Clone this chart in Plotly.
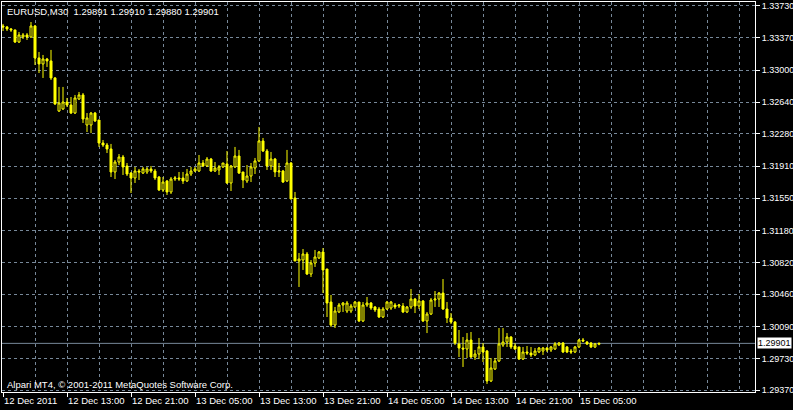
import plotly.graph_objects as go
import pandas as pd

# ---- data (EURUSD M30, 150 bars starting 12 Dec 2011 05:00) ----
bar_times = pd.date_range("2011-12-12 05:00", periods=150, freq="30min")

opens = [
    1.33503, 1.33492, 1.33469, 1.33458, 1.33321, 1.33378, 1.33401, 1.33378, 1.33503, 1.33140,
    1.33072, 1.33128, 1.33106, 1.32913, 1.32538, 1.32561, 1.32640, 1.32606, 1.32515, 1.32674,
    1.32720, 1.32379, 1.32379, 1.32515, 1.32436, 1.32175, 1.32152, 1.32107, 1.31846, 1.31959,
    1.32016, 1.31914, 1.31834, 1.31778, 1.31857, 1.31834, 1.31846, 1.31880, 1.31857, 1.31789,
    1.31642, 1.31744, 1.31619, 1.31766, 1.31778, 1.31778, 1.31744, 1.31823, 1.31857, 1.31857,
    1.31948, 1.31914, 1.31993, 1.31857, 1.31869, 1.31903, 1.31937, 1.31721, 1.31903, 1.32027,
    1.31846, 1.31744, 1.31800, 1.31891, 1.31971, 1.32198, 1.32084, 1.31914, 1.31993, 1.31846,
    1.31857, 1.31744, 1.31948, 1.31551, 1.30836, 1.30847, 1.30915, 1.30688, 1.30813, 1.30870,
    1.30938, 1.30745, 1.30370, 1.30109, 1.30257, 1.30336, 1.30268, 1.30268, 1.30314, 1.30370,
    1.30155, 1.30336, 1.30359, 1.30314, 1.30291, 1.30200, 1.30291, 1.30302, 1.30336, 1.30325,
    1.30325, 1.30257, 1.30314, 1.30404, 1.30325, 1.30382, 1.30155, 1.30234, 1.30393, 1.30404,
    1.30472, 1.30291, 1.30189, 1.30143, 1.29894, 1.29848, 1.29837, 1.29939, 1.29746, 1.29780,
    1.29860, 1.29814, 1.29474, 1.29610, 1.29701, 1.29882, 1.29916, 1.29973, 1.29871, 1.29860,
    1.29723, 1.29803, 1.29791, 1.29769, 1.29803, 1.29814, 1.29848, 1.29826, 1.29837, 1.29882,
    1.29905, 1.29860, 1.29814, 1.29803, 1.29860, 1.29939, 1.29916, 1.29905, 1.29860, 1.29891,
]
highs = [
    1.33526, 1.33503, 1.33480, 1.33458, 1.33435, 1.33423, 1.33423, 1.33548, 1.33514, 1.33208,
    1.33174, 1.33140, 1.33231, 1.32924, 1.32811, 1.32811, 1.32686, 1.32697, 1.32720, 1.32754,
    1.32742, 1.32515, 1.32527, 1.32527, 1.32436, 1.32209, 1.32175, 1.32164, 1.31982, 1.32050,
    1.32039, 1.31948, 1.31846, 1.31903, 1.31880, 1.31903, 1.31903, 1.31914, 1.31880, 1.31800,
    1.31789, 1.31755, 1.31789, 1.31800, 1.31846, 1.31846, 1.31880, 1.31903, 1.31903, 1.32039,
    1.31982, 1.32016, 1.32005, 1.31959, 1.31925, 1.31948, 1.32084, 1.31925, 1.32130, 1.32096,
    1.31846, 1.31925, 1.31948, 1.32005, 1.32357, 1.32232, 1.32107, 1.32073, 1.32005, 1.31948,
    1.31869, 1.32096, 1.31959, 1.31619, 1.30926, 1.30972, 1.30938, 1.30847, 1.30961, 1.30949,
    1.30983, 1.30745, 1.30450, 1.30314, 1.30359, 1.30370, 1.30382, 1.30348, 1.30382, 1.30370,
    1.30370, 1.30427, 1.30370, 1.30325, 1.30314, 1.30314, 1.30382, 1.30382, 1.30359, 1.30348,
    1.30359, 1.30325, 1.30518, 1.30416, 1.30461, 1.30393, 1.30257, 1.30416, 1.30495, 1.30484,
    1.30631, 1.30370, 1.30245, 1.30155, 1.30053, 1.29973, 1.30018, 1.30030, 1.29826, 1.29962,
    1.29905, 1.29826, 1.29735, 1.29735, 1.30075, 1.30075, 1.30018, 1.29984, 1.29905, 1.29860,
    1.29860, 1.29871, 1.29860, 1.29848, 1.29860, 1.29860, 1.29860, 1.29871, 1.29916, 1.29916,
    1.29916, 1.29871, 1.29837, 1.29871, 1.29950, 1.29962, 1.29928, 1.29916, 1.29905, 1.29910,
]
lows = [
    1.33446, 1.33446, 1.33435, 1.33310, 1.33310, 1.33355, 1.33344, 1.33367, 1.33060, 1.32969,
    1.32913, 1.33038, 1.32890, 1.32606, 1.32527, 1.32550, 1.32584, 1.32504, 1.32504, 1.32663,
    1.32402, 1.32300, 1.32288, 1.32413, 1.32130, 1.32130, 1.32061, 1.31789, 1.31766, 1.31925,
    1.31812, 1.31800, 1.31607, 1.31721, 1.31755, 1.31823, 1.31823, 1.31834, 1.31755, 1.31630,
    1.31619, 1.31585, 1.31596, 1.31744, 1.31744, 1.31710, 1.31732, 1.31800, 1.31846, 1.31846,
    1.31903, 1.31903, 1.31846, 1.31846, 1.31812, 1.31891, 1.31710, 1.31630, 1.31891, 1.31823,
    1.31664, 1.31721, 1.31732, 1.31823, 1.31959, 1.32073, 1.31869, 1.31869, 1.31789, 1.31789,
    1.31721, 1.31732, 1.31539, 1.30836, 1.30541, 1.30734, 1.30677, 1.30654, 1.30768, 1.30858,
    1.30472, 1.30200, 1.30087, 1.30075, 1.30245, 1.30257, 1.30245, 1.30245, 1.30302, 1.30143,
    1.30143, 1.30314, 1.30280, 1.30257, 1.30189, 1.30189, 1.30280, 1.30280, 1.30291, 1.30302,
    1.30245, 1.30245, 1.30291, 1.30245, 1.30291, 1.30143, 1.30018, 1.30223, 1.30314, 1.30314,
    1.30280, 1.30132, 1.30121, 1.29882, 1.29746, 1.29633, 1.29735, 1.29735, 1.29712, 1.29723,
    1.29689, 1.29440, 1.29462, 1.29599, 1.29689, 1.29860, 1.29860, 1.29837, 1.29826, 1.29712,
    1.29712, 1.29769, 1.29746, 1.29757, 1.29791, 1.29769, 1.29803, 1.29803, 1.29826, 1.29871,
    1.29791, 1.29791, 1.29780, 1.29791, 1.29848, 1.29916, 1.29882, 1.29848, 1.29848, 1.29880,
]
closes = [
    1.33492, 1.33469, 1.33458, 1.33321, 1.33401, 1.33401, 1.33378, 1.33503, 1.33140, 1.33072,
    1.33128, 1.33106, 1.32913, 1.32618, 1.32629, 1.32640, 1.32606, 1.32515, 1.32686, 1.32720,
    1.32447, 1.32459, 1.32515, 1.32425, 1.32175, 1.32152, 1.32107, 1.31846, 1.31959, 1.32016,
    1.31903, 1.31823, 1.31778, 1.31857, 1.31846, 1.31880, 1.31880, 1.31857, 1.31778, 1.31642,
    1.31732, 1.31619, 1.31766, 1.31778, 1.31766, 1.31744, 1.31823, 1.31857, 1.31880, 1.31948,
    1.31914, 1.31993, 1.31857, 1.31891, 1.31903, 1.31948, 1.31721, 1.31914, 1.32027, 1.31834,
    1.31755, 1.31800, 1.31903, 1.31971, 1.32198, 1.32084, 1.31914, 1.31993, 1.31846, 1.31857,
    1.31732, 1.31948, 1.31539, 1.30836, 1.30858, 1.30915, 1.30688, 1.30813, 1.30881, 1.30938,
    1.30734, 1.30359, 1.30109, 1.30268, 1.30336, 1.30359, 1.30359, 1.30325, 1.30370, 1.30155,
    1.30336, 1.30359, 1.30302, 1.30280, 1.30200, 1.30291, 1.30370, 1.30370, 1.30314, 1.30336,
    1.30257, 1.30314, 1.30404, 1.30325, 1.30382, 1.30155, 1.30234, 1.30393, 1.30404, 1.30472,
    1.30291, 1.30189, 1.30143, 1.29905, 1.29848, 1.29837, 1.29939, 1.29746, 1.29780, 1.29860,
    1.29803, 1.29474, 1.29621, 1.29701, 1.29894, 1.29916, 1.29973, 1.29860, 1.29837, 1.29723,
    1.29803, 1.29791, 1.29769, 1.29814, 1.29848, 1.29848, 1.29826, 1.29860, 1.29894, 1.29905,
    1.29803, 1.29803, 1.29803, 1.29860, 1.29939, 1.29928, 1.29894, 1.29860, 1.29894, 1.29901,
]

price_ticks = [1.33730, 1.33370, 1.33000, 1.32640, 1.32280, 1.31910, 1.31550,
               1.31180, 1.30820, 1.30460, 1.30090, 1.29730, 1.29370]
price_labels = ["1.33730", "1.33370", "1.33000", "1.32640", "1.32280", "1.31910", "1.31550",
                "1.31180", "1.30820", "1.30460", "1.30090", "1.29730", "1.29370"]

time_ticks = ["2011-12-12 05:00", "2011-12-12 13:00", "2011-12-12 21:00", "2011-12-13 05:00",
              "2011-12-13 13:00", "2011-12-13 21:00", "2011-12-14 05:00", "2011-12-14 13:00",
              "2011-12-14 21:00", "2011-12-15 05:00"]
time_labels = ["12 Dec 2011", "12 Dec 13:00", "12 Dec 21:00", "13 Dec 05:00", "13 Dec 13:00",
               "13 Dec 21:00", "14 Dec 05:00", "14 Dec 13:00", "14 Dec 21:00", "15 Dec 05:00"]

symbol_title = "EURUSD,M30  1.29891 1.29910 1.29880 1.29901"
bid_price = 1.29901
bid_label = "1.29901"
footer = "Alpari MT4, © 2001-2011 MetaQuotes Software Corp."

FONT = "Liberation Sans"
FSIZE = 9.5
YSIZE = 9
YELLOW = "#FFFF00"
GRID = "#778899"

fig = go.Figure()
fig.add_trace(go.Candlestick(
    x=bar_times, open=opens, high=highs, low=lows, close=closes,
    increasing=dict(line=dict(color=YELLOW, width=1), fillcolor="#000000"),
    decreasing=dict(line=dict(color=YELLOW, width=1), fillcolor=YELLOW),
    whiskerwidth=0, showlegend=False, hoverinfo="skip",
))

fig.add_shape(type="line", xref="paper", x0=0, x1=1, yref="y", y0=bid_price, y1=bid_price,
              line=dict(color=GRID, width=1), layer="below")

fig.add_annotation(xref="paper", yref="paper", x=0, y=1, xanchor="left", yanchor="middle",
                   xshift=3, yshift=-9, text=symbol_title, showarrow=False,
                   font=dict(family=FONT, size=FSIZE, color="#FFFFFF"))
fig.add_annotation(xref="paper", yref="paper", x=0, y=0, xanchor="left", yanchor="middle",
                   xshift=3, yshift=8, text=footer, showarrow=False,
                   font=dict(family=FONT, size=FSIZE, color="#FFFFFF"))
fig.add_annotation(xref="paper", yref="y", x=1, y=bid_price, xanchor="left", yanchor="middle",
                   xshift=2, text=bid_label, showarrow=False, bgcolor="#FFFFFF",
                   borderpad=0, font=dict(family=FONT, size=YSIZE, color="#000000"))

fig.update_layout(
    width=793, height=410,
    margin=dict(l=2, r=38, t=2, b=18, pad=0, autoexpand=False),
    paper_bgcolor="#000000", plot_bgcolor="#000000",
    font=dict(family=FONT, size=FSIZE, color="#FFFFFF"),
    boxgap=0.5, boxgroupgap=0,
    showlegend=False,
    xaxis=dict(
        type="date",
        range=["2011-12-12 04:52:30", "2011-12-16 03:00"],
        rangeslider=dict(visible=False),
        tickmode="array", tickvals=time_ticks, ticktext=time_labels,
        tickangle=0,
        ticks="outside", ticklen=4, tickcolor="#FFFFFF", tickwidth=1,
        ticklabelposition="outside right",
        tickfont=dict(family=FONT, size=FSIZE, color="#FFFFFF"),
        showgrid=True, gridcolor=GRID, griddash="3px,3px", gridwidth=1,
        minor=dict(tick0="2011-12-12 09:00", dtick=14400000, showgrid=True,
                   gridcolor=GRID, griddash="3px,3px", gridwidth=1, ticks=""),
        showline=True, linecolor="#FFFFFF", linewidth=1, mirror=True,
        zeroline=False, fixedrange=True, automargin=False,
    ),
    yaxis=dict(
        side="right",
        range=[1.29349, 1.33775],
        tickmode="array", tickvals=price_ticks, ticktext=price_labels,
        ticks="outside", ticklen=4, tickcolor="#FFFFFF", tickwidth=1,
        tickfont=dict(family=FONT, size=YSIZE, color="#FFFFFF"),
        showgrid=True, gridcolor=GRID, griddash="3px,3px", gridwidth=1,
        showline=True, linecolor="#FFFFFF", linewidth=1, mirror=True,
        zeroline=False, fixedrange=True, automargin=False,
    ),
)

fig.write_html(
    "out.html",
    config={"displayModeBar": False},
    post_script="document.body.style.margin='0px';document.body.style.background='#000000';"
                "document.documentElement.style.overflow='hidden';",
)
